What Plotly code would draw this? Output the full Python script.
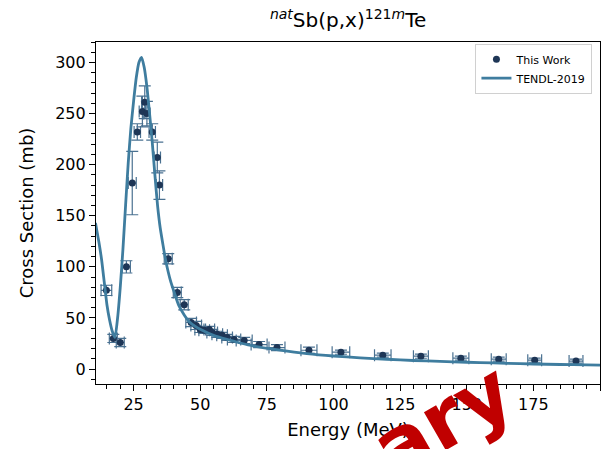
import plotly.graph_objects as go

# Measured data ("This Work")
energy = [14.8, 17.4, 20.0, 22.3, 24.5, 26.4, 28.3, 29.2, 30.0, 32.0, 33.9, 34.7,
          38.0, 41.4, 44.0, 46.6, 48.5, 50.0, 51.5, 53.4, 54.5, 56.4, 58.2, 60.1,
          62.7, 66.5, 72.1, 78.8, 90.8, 102.8, 118.5, 132.8, 147.8, 162.0, 175.5, 191.0]
xs = [77, 30, 26, 100, 182, 232, 252, 261, 250, 232, 207, 180,
      108, 75, 63, 45.6, 42.7, 38.8, 37.9, 38.8, 35.9, 34, 33, 31,
      29, 28, 24, 21, 18.4, 16.5, 13.6, 12.6, 10.7, 9.7, 8.7, 7.8]
xs_err = [5, 4, 4, 6, 31, 8, 15, 16, 12, 8, 15, 14,
          5, 5, 5, 4, 4, 3, 3, 3, 3, 3, 3, 3,
          3, 3, 3, 3, 3, 2, 2, 2, 2, 2, 2, 2]
energy_err = [2.0, 1.5, 1.5, 1.5, 1.5, 1.2, 1.2, 1.2, 1.2, 1.2, 1.2, 1.2,
              1.5, 1.5, 1.5, 2.0, 2.0, 2.0, 2.0, 2.0, 2.0, 2.0, 2.0, 2.0,
              2.5, 3.0, 3.0, 3.0, 3.0, 3.3, 3.1, 2.8, 3.0, 2.8, 2.6, 2.6]

# TENDL-2019 curve
tendl_e = [10.7, 12, 13, 14, 15, 16, 17, 18, 19, 20, 21, 22, 23, 24, 25, 26, 27, 28,
           29, 30, 31, 32, 33, 34, 35, 36, 37, 38, 39, 40, 42, 44, 46, 48, 50, 55,
           60, 65, 70, 80, 90, 100, 110, 120, 130, 140, 150, 160, 170, 180, 190, 200]
tendl_xs = [143, 124, 107, 85, 63, 48, 37, 31, 50, 80, 117, 160, 202, 236, 262, 285,
            300, 305, 295, 276, 250, 222, 190, 160, 138, 122, 107, 95, 85, 77, 62,
            53, 46, 42, 39, 33, 29, 25.5, 22.5, 18.5, 15.2, 12.8, 11, 9.6, 8.4, 7.5,
            6.7, 6, 5.3, 4.7, 4.3, 3.9]

x_ticks = [25, 50, 75, 100, 125, 150, 175, 200]
y_ticks = [0, 50, 100, 150, 200, 250, 300]

font_family = "DejaVu Sans"

fig = go.Figure()
fig.add_trace(go.Scatter(
    x=energy, y=xs, mode="markers", name="This Work",
    marker=dict(color="#1e3656", size=7),
    error_y=dict(type="data", array=xs_err, color="#4a7191", thickness=1.2, width=6),
    error_x=dict(type="data", array=energy_err, color="#4a7191", thickness=1.2, width=6),
))
fig.add_trace(go.Scatter(
    x=tendl_e, y=tendl_xs, mode="lines", name="TENDL-2019",
    line=dict(color="#3f7d9f", width=2.8, shape="spline", smoothing=0.6),
))

axis_common = dict(
    showline=True, linecolor="black", linewidth=1.2, mirror=True,
    ticks="outside", ticklen=6, tickwidth=1.2, tickcolor="black",
    showgrid=False, zeroline=False,
    tickfont=dict(family=font_family, size=16, color="black"),
)

fig.update_xaxes(
    range=[10.9, 200], tickvals=x_ticks,
    title=dict(text="Energy (MeV)", font=dict(family=font_family, size=18, color="black"), standoff=10),
    minor=dict(dtick=5, tick0=0, ticks="outside", ticklen=3.5, tickwidth=1, tickcolor="black"),
    **axis_common,
)
fig.update_yaxes(
    range=[-14.6, 320], tickvals=y_ticks,
    title=dict(text="Cross Section (mb)", font=dict(family=font_family, size=18, color="black"), standoff=16),
    minor=dict(dtick=10, tick0=0, ticks="outside", ticklen=3.5, tickwidth=1, tickcolor="black"),
    **axis_common,
)

fig.update_layout(
    width=615, height=449,
    margin=dict(l=96, r=15, t=42, b=62),
    paper_bgcolor="white", plot_bgcolor="white",
    font=dict(family=font_family, color="black"),
    title=dict(text="<sup><i>nat</i></sup>Sb(p,x)<sup>121<i>m</i></sup>Te",
               x=0.566, xanchor="center", y=0.955, yanchor="middle",
               font=dict(family=font_family, size=20, color="black")),
    legend=dict(x=0.985, y=0.995, xanchor="right", yanchor="top",
                bgcolor="white", bordercolor="#d0d0d0", borderwidth=1,
                font=dict(family=font_family, size=11, color="black"),
                tracegroupgap=2),
    showlegend=True,
)

fig.add_annotation(
    text="<b>Preliminary</b>", xref="paper", yref="paper",
    x=0.367, y=-0.380, xanchor="center", yanchor="middle",
    showarrow=False, textangle=-30,
    font=dict(family=font_family, size=80, color="#c00000"),
)

fig.write_html("out.html")
